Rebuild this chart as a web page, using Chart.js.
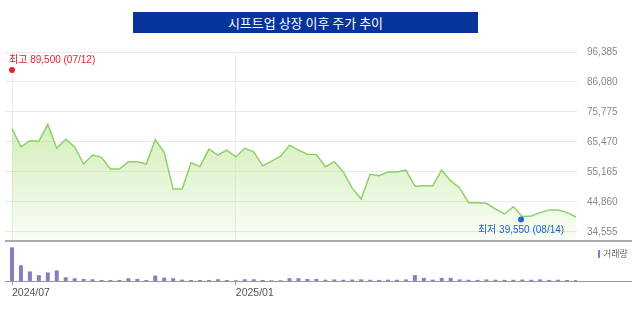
<!DOCTYPE html>
<html>
<head>
<meta charset="utf-8">
<script src="https://cdn.jsdelivr.net/npm/chart.js@4.4.1/dist/chart.umd.min.js"></script>
<style>
  body { margin: 0; width: 640px; height: 310px; background: #fff; position: relative; overflow: hidden; }
  #title {
    position: absolute; left: 133px; top: 12px; width: 345px; height: 21px;
    background: #06349a; color: #fff; text-align: center;
    font: 13px/21px "Noto Sans CJK KR", sans-serif;
  }
  #priceCanvas { position: absolute; left: 0; top: 40px; }
  #volCanvas { position: absolute; left: 0; top: 244px; }
  #volLegend {
    position: absolute; left: 598px; top: 248px; font: 9px/12px "Noto Sans CJK KR", sans-serif; color: #666;
  }
  #volLegend i { display: inline-block; width: 2px; height: 8px; background: #8e7cc3; margin-right: 3px; vertical-align: -1px; }
</style>
</head>
<body>
<div id="title">시프트업 상장 이후 주가 추이</div>
<canvas id="priceCanvas" width="640" height="202"></canvas>
<canvas id="volCanvas" width="640" height="66"></canvas>
<div id="volLegend"><i></i>거래량</div>
<script>
// 주간 종가 (2024-07-12 상장 주부터)
const closePrice = [
  70100, 63800, 65900, 65700, 71500, 63300, 66400, 63800, 57900, 61000,
  60200, 56200, 56200, 58700, 58700, 57900, 66300, 61900, 49300, 49300,
  58300, 57000, 63000, 61000, 62700, 60400, 63300, 62100, 57300, 58900,
  60600, 64400, 62700, 61300, 61200, 57000, 58700, 55200, 49600, 45900,
  54400, 53900, 55200, 55200, 55800, 50300, 50400, 50400, 55800, 52100,
  49700, 44600, 44600, 44400, 42450, 40750, 43250, 39850, 40050, 41200,
  42100, 42100, 41200, 39700
];
// 주간 거래량 (천주)
const volume = [
  3270, 1530, 930, 570, 830, 1030, 370, 270, 200, 170,
  100, 100, 100, 270, 200, 100, 530, 330, 270, 130,
  100, 100, 100, 170, 100, 70, 170, 170, 100, 70,
  70, 270, 270, 200, 200, 130, 150, 120, 140, 160,
  120, 110, 130, 120, 150, 570, 300, 130, 300, 300,
  150, 120, 110, 150, 120, 110, 120, 140, 120, 150,
  110, 120, 100, 90
];
const yTicks = [34555, 44860, 55165, 65470, 75775, 86080, 96385];
const xTickIndex = [0, 25];
const xTickLabels = ['2024/07', '2025/01'];
const startDate = '2024-07-12';
const highValue = 89500, highDate = '2024-07-12', highLabel = '최고 89,500 (07/12)';
const lowValue = 39550, lowDate = '2025-08-14', lowLabel = '최저 39,550 (08/14)';

function weekIndex(d) {
  return (new Date(d) - new Date(startDate)) / (7 * 24 * 3600 * 1000);
}

Chart.defaults.font.family = "'Liberation Sans', 'Noto Sans CJK KR', sans-serif";
Chart.defaults.animation = false;

const xMin = -0.782, xMax = 63.11;

// 최고/최저 표시 + 하단 축선
const markPlugin = {
  id: 'marks',
  afterDatasetsDraw(chart) {
    const ctx = chart.ctx, xs = chart.scales.x, ys = chart.scales.y, a = chart.chartArea;
    ctx.save();
    ctx.strokeStyle = '#aaa';
    ctx.lineWidth = 2;
    ctx.beginPath();
    ctx.moveTo(a.left, a.bottom);
    ctx.lineTo(632, a.bottom);
    ctx.stroke();

    ctx.font = "10px 'Liberation Sans', 'Noto Sans CJK KR', sans-serif";
    ctx.textBaseline = 'middle';
    let px = xs.getPixelForValue(weekIndex(highDate)), py = ys.getPixelForValue(highValue) - 2;
    ctx.fillStyle = '#e8202a';
    ctx.beginPath(); ctx.arc(px, py, 3, 0, Math.PI * 2); ctx.fill();
    ctx.textAlign = 'left';
    ctx.fillText(highLabel, px - 3, py - 10);

    px = xs.getPixelForValue(weekIndex(lowDate)); py = ys.getPixelForValue(lowValue) + 2;
    ctx.fillStyle = '#2266cc';
    ctx.beginPath(); ctx.arc(px, py, 3, 0, Math.PI * 2); ctx.fill();
    ctx.textAlign = 'center';
    ctx.fillText(lowLabel, px, py + 11);
    ctx.restore();
  }
};

new Chart(document.getElementById('priceCanvas'), {
  type: 'line',
  data: {
    datasets: [{
      data: closePrice.map((v, i) => ({ x: i, y: v })),
      borderColor: '#8fd066',
      borderWidth: 1.5,
      pointRadius: 0,
      tension: 0,
      fill: 'start',
      backgroundColor: function (c) {
        const a = c.chart.chartArea;
        if (!a) return 'rgba(170,225,120,0.4)';
        const g = c.chart.ctx.createLinearGradient(0, a.top, 0, a.bottom);
        g.addColorStop(0, 'rgba(170,225,120,0.8)');
        g.addColorStop(1, 'rgba(170,225,120,0.06)');
        return g;
      }
    }]
  },
  options: {
    responsive: false,
    layout: { padding: { left: 5, top: 12, bottom: 1, right: 0 } },
    plugins: { legend: { display: false }, tooltip: { enabled: false } },
    scales: {
      x: {
        type: 'linear', min: xMin, max: xMax,
        afterBuildTicks: s => { s.ticks = xTickIndex.map(v => ({ value: v })); },
        afterFit: s => { s.height = 0; },
        ticks: { display: false },
        grid: { color: '#eeeeee', drawTicks: false },
        border: { display: false }
      },
      y: {
        position: 'right',
        min: 31463, max: 96385,
        afterBuildTicks: s => { s.ticks = yTicks.map(v => ({ value: v })); },
        afterFit: s => { s.width = 63; s.paddingTop = 0; s.paddingBottom = 0; },
        ticks: {
          color: '#888', padding: 10, font: { size: 10 },
          callback: v => v.toLocaleString('en-US')
        },
        grid: { color: '#e9e9e9', drawTicks: false },
        border: { display: false }
      }
    }
  },
  plugins: [markPlugin]
});

const baseLinePlugin = {
  id: 'baseLine',
  afterDatasetsDraw(chart) {
    const ctx = chart.ctx, a = chart.chartArea;
    ctx.save();
    ctx.strokeStyle = '#999';
    ctx.lineWidth = 1;
    ctx.beginPath();
    ctx.moveTo(a.left, a.bottom + 0.5);
    ctx.lineTo(632, a.bottom + 0.5);
    ctx.stroke();
    ctx.restore();
  }
};

new Chart(document.getElementById('volCanvas'), {
  type: 'bar',
  data: {
    datasets: [{
      data: volume.map((v, i) => ({ x: i, y: v })),
      backgroundColor: '#8e7cc3',
      barPercentage: 0.45,
      categoryPercentage: 1
    }]
  },
  options: {
    responsive: false,
    layout: { padding: { left: 5, top: 2, right: 63, bottom: 0 } },
    plugins: { legend: { display: false }, tooltip: { enabled: false } },
    scales: {
      x: {
        type: 'linear', min: xMin, max: xMax, offset: false,
        afterBuildTicks: s => { s.ticks = xTickIndex.map(v => ({ value: v })); },
        afterFit: s => { s.height = 29; },
        ticks: {
          color: '#555', padding: 2, align: 'start', maxRotation: 0,
          font: { size: 10.5 },
          callback: v => xTickLabels[xTickIndex.indexOf(v)]
        },
        grid: { drawOnChartArea: false, offset: false, tickLength: 4, color: '#999' },
        border: { display: false }
      },
      y: { display: false, min: 0, max: 3400 }
    }
  },
  plugins: [baseLinePlugin]
});
</script>
</body>
</html>
